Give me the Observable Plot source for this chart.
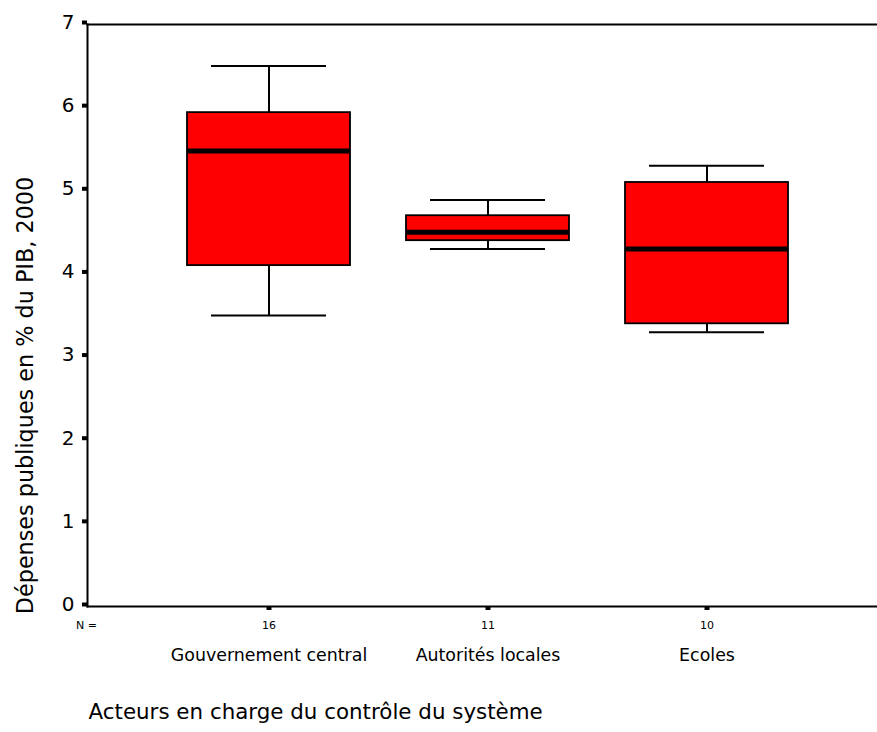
<!DOCTYPE html>
<html>
<head>
<meta charset="utf-8">
<script src="https://cdn.jsdelivr.net/npm/d3@7"></script>
<script src="https://cdn.jsdelivr.net/npm/@observablehq/plot@0.6"></script>
<style>
  html, body { margin: 0; padding: 0; background: #fff; }
  #chart svg { display: block; }
</style>
</head>
<body>
<div id="chart"></div>
<script>
const categories = ["Gouvernement central", "Autorités locales", "Ecoles"];
const counts = [16, 11, 10];
const lowWhisker = [3.5, 4.3, 3.3];
const q1 = [4.1, 4.4, 3.4];
const median = [5.48, 4.5, 4.3];
const q3 = [5.94, 4.7, 5.1];
const highWhisker = [6.5, 4.89, 5.3];
const yTicks = [0, 1, 2, 3, 4, 5, 6, 7];
const yTitle = "Dépenses publiques en % du PIB, 2000";
const xTitle = "Acteurs en charge du contrôle du système";
const nLabel = "N =";

const data = categories.map((c, i) => ({
  cat: c, n: counts[i], lo: lowWhisker[i], q1: q1[i], med: median[i], q3: q3[i], hi: highWhisker[i]
}));
const countOf = new Map(categories.map((c, i) => [c, counts[i]]));

const font = "'Comic Sans MS', 'DejaVu Sans', sans-serif";

const chart = Plot.plot({
  width: 877,
  height: 732,
  marginLeft: 87,
  marginRight: 0,
  marginTop: 24,
  marginBottom: 126,
  style: { fontFamily: font, color: "black", background: "white" },
  x: { type: "band", domain: categories, range: [87, 888], paddingInner: 0.2574, paddingOuter: 0.4533 },
  y: { domain: [0, 7] },
  marks: [
    Plot.ruleX(data, { x: "cat", y1: "q3", y2: "hi", stroke: "black", strokeWidth: 2 }),
    Plot.ruleX(data, { x: "cat", y1: "lo", y2: "q1", stroke: "black", strokeWidth: 2 }),
    Plot.tickY(data, { x: "cat", y: "hi", stroke: "black", strokeWidth: 2, insetLeft: 24, insetRight: 24 }),
    Plot.tickY(data, { x: "cat", y: "lo", stroke: "black", strokeWidth: 2, insetLeft: 24, insetRight: 24 }),
    Plot.barY(data, { x: "cat", y1: "q1", y2: "q3", fill: "#ff0000", stroke: "black", strokeWidth: 1.8 }),
    Plot.tickY(data, { x: "cat", y: "med", stroke: "black", strokeWidth: 5 }),
    Plot.frame({ anchor: "left", stroke: "black", strokeWidth: 2 }),
    Plot.frame({ anchor: "top", stroke: "black", strokeWidth: 2 }),
    Plot.frame({ anchor: "bottom", stroke: "black", strokeWidth: 2 }),
    Plot.axisY({
      ticks: yTicks, tickFormat: d => String(d), tickSize: 5, strokeWidth: 4, tickPadding: 8,
      fontSize: 20, dy: -2, label: null
    }),
    Plot.axisX({
      tickSize: 4, strokeWidth: 5, tickPadding: 11, fontSize: 11,
      tickFormat: d => String(countOf.get(d)), label: null
    }),
    Plot.axisX({
      tickSize: 0, tickPadding: 42, fontSize: 17.4, label: null
    }),
    Plot.text([nLabel], { frameAnchor: "bottom-left", textAnchor: "middle", dx: -1, dy: 22, fontSize: 11, fill: "black" }),
    Plot.text([yTitle], { frameAnchor: "left", rotate: -90, textAnchor: "middle", lineAnchor: "middle", dx: -61.5, dy: 80, fontSize: 22.3, fill: "black" }),
    Plot.text([xTitle], { frameAnchor: "bottom-left", textAnchor: "start", lineAnchor: "middle", dx: 1, dy: 106, fontSize: 21.4, fill: "black" })
  ]
});

document.getElementById("chart").appendChild(chart);
</script>
</body>
</html>
